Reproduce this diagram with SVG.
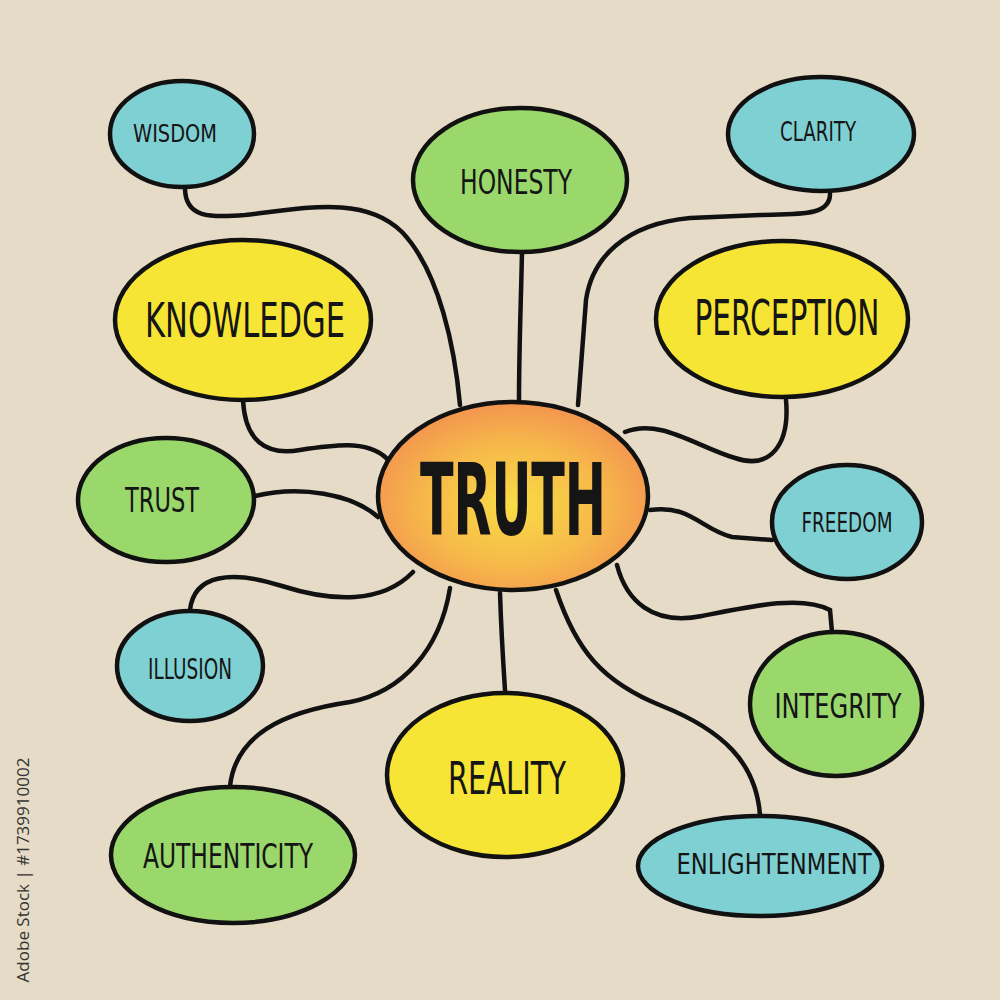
<svg xmlns="http://www.w3.org/2000/svg" width="1000" height="1000" viewBox="0 0 1000 1000">
<defs>
<radialGradient id="og" cx="0.5" cy="0.55" r="0.55">
<stop offset="0" stop-color="#f8dc45"/>
<stop offset="0.6" stop-color="#f6b84a"/>
<stop offset="1" stop-color="#f39450"/>
</radialGradient>
<style>
.n{stroke:#111;stroke-width:4.5}
.b{fill:#7fd0d3}
.g{fill:#9ad86c}
.y{fill:#f6e535}
.c path{fill:none;stroke:#111;stroke-width:4.5;stroke-linecap:round}
text{font-family:"DejaVu Sans Condensed","Liberation Sans",sans-serif;fill:#151515;text-anchor:middle;dominant-baseline:central}
</style>
</defs>
<rect width="1000" height="1000" fill="#e5dbc6"/>
<g class="c" id="connectors">
<path d="M185,188 C185,218 210,218 245,215 C305,208 365,195 402,232 C440,272 455,350 460,405"/>
<path d="M522,252 C521,300 519,350 519,400"/>
<path d="M830,194 C830,216 800,214 760,215 L690,218 C625,224 592,258 586,300 L578,405"/>
<path d="M243,400 C245,440 265,456 300,450 C340,444 372,440 390,462"/>
<path d="M786,400 C790,445 770,470 735,458 C695,446 660,418 625,432"/>
<path d="M255,496 C300,485 352,494 378,517"/>
<path d="M650,510 C690,504 702,530 732,537 L772,540"/>
<path d="M190,610 C194,574 232,570 282,586 C332,602 382,604 413,572"/>
<path d="M617,565 C626,600 652,626 702,616 C752,606 802,595 830,610 L832,632"/>
<path d="M500,593 C501,625 503,660 505,690"/>
<path d="M230,786 C236,735 282,712 350,702 C402,692 440,650 450,588"/>
<path d="M556,590 C576,650 602,682 662,706 C722,730 756,762 760,815"/>
</g>
<g id="wisdom"><ellipse class="n b" cx="182" cy="134" rx="72" ry="53"/><text x="175" y="133" font-size="25" textLength="84" lengthAdjust="spacingAndGlyphs">WISDOM</text></g>
<g id="honesty"><ellipse class="n g" cx="520" cy="180" rx="107" ry="72"/><text x="516" y="182" font-size="34" textLength="112" lengthAdjust="spacingAndGlyphs">HONESTY</text></g>
<g id="clarity"><ellipse class="n b" cx="821" cy="134" rx="93" ry="57"/><text x="818" y="131" font-size="27" textLength="76" lengthAdjust="spacingAndGlyphs">CLARITY</text></g>
<g id="knowledge"><ellipse class="n y" cx="243" cy="320" rx="128" ry="80"/><text x="245" y="320" font-size="48" textLength="200" lengthAdjust="spacingAndGlyphs">KNOWLEDGE</text></g>
<g id="perception"><ellipse class="n y" cx="782" cy="319" rx="126" ry="78"/><text x="787" y="318" font-size="50" textLength="185" lengthAdjust="spacingAndGlyphs">PERCEPTION</text></g>
<g id="truth"><ellipse class="n" fill="url(#og)" cx="513" cy="496" rx="135" ry="94"/><text x="513" y="500" font-size="100" font-weight="bold" textLength="186" lengthAdjust="spacingAndGlyphs">TRUTH</text></g>
<g id="trust"><ellipse class="n g" cx="166" cy="500" rx="88" ry="62"/><text x="162" y="500" font-size="34" textLength="74" lengthAdjust="spacingAndGlyphs">TRUST</text></g>
<g id="freedom"><ellipse class="n b" cx="847" cy="522" rx="75" ry="57"/><text x="847" y="522" font-size="27" textLength="91" lengthAdjust="spacingAndGlyphs">FREEDOM</text></g>
<g id="illusion"><ellipse class="n b" cx="190" cy="666" rx="73" ry="55"/><text x="190" y="669" font-size="28" textLength="84" lengthAdjust="spacingAndGlyphs">ILLUSION</text></g>
<g id="integrity"><ellipse class="n g" cx="836" cy="704" rx="86" ry="72"/><text x="838" y="706" font-size="34" textLength="127" lengthAdjust="spacingAndGlyphs">INTEGRITY</text></g>
<g id="reality"><ellipse class="n y" cx="505" cy="775" rx="118" ry="82"/><text x="507" y="778" font-size="44" textLength="118" lengthAdjust="spacingAndGlyphs">REALITY</text></g>
<g id="authenticity"><ellipse class="n g" cx="233" cy="855" rx="122" ry="68"/><text x="228" y="856" font-size="34" textLength="170" lengthAdjust="spacingAndGlyphs">AUTHENTICITY</text></g>
<g id="enlightenment"><ellipse class="n b" cx="760" cy="866" rx="122" ry="50"/><text x="774" y="864" font-size="28" textLength="195" lengthAdjust="spacingAndGlyphs">ENLIGHTENMENT</text></g>
<text x="22" y="870" font-size="17" transform="rotate(-90 22 870)" style="font-family:'Open Sans','Liberation Sans',sans-serif;fill:#333">Adobe Stock | #1739910002</text>
</svg>
